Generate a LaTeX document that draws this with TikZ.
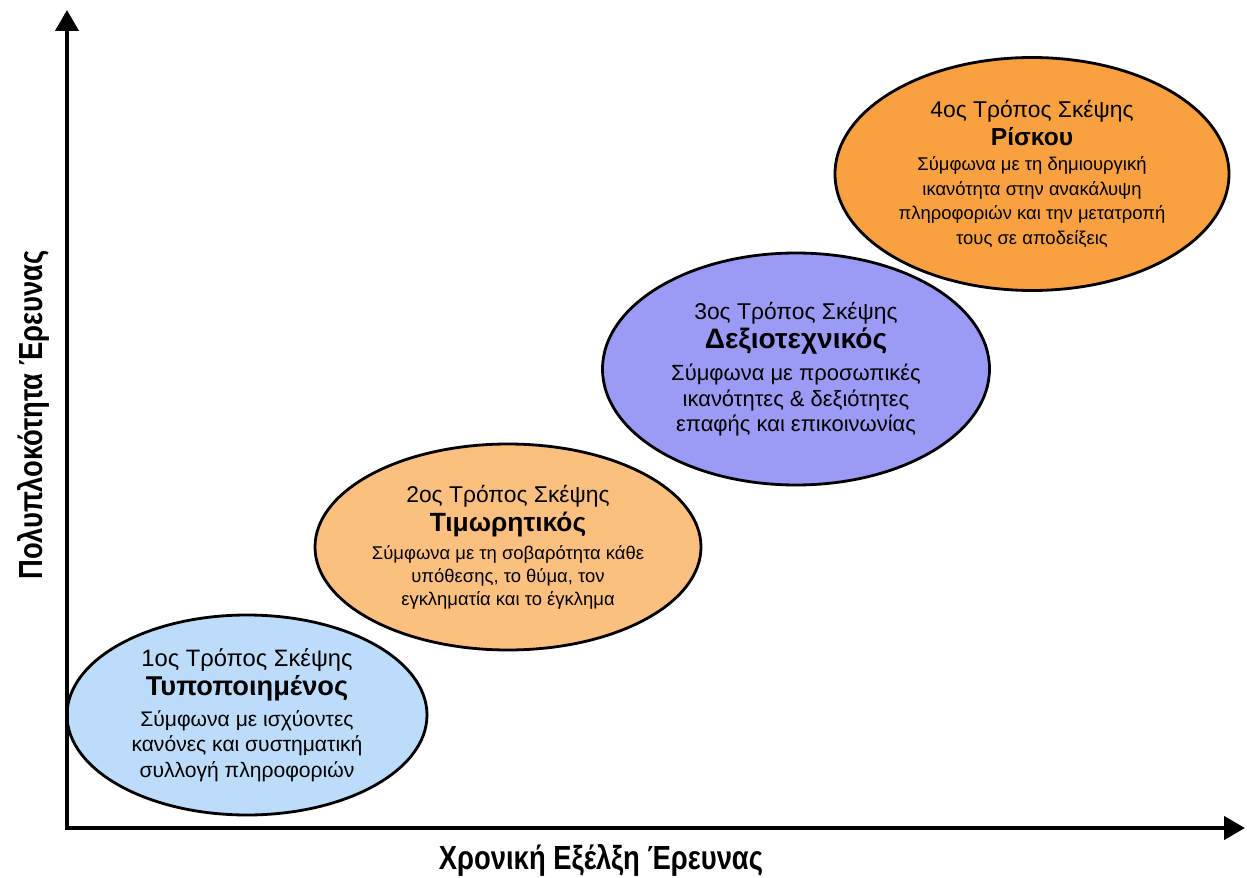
\documentclass[tikz,border=0pt]{standalone}
\usepackage{fontspec}
\setmainfont{Liberation Sans}
\newfontfamily\axisfont[FakeStretch=0.82]{Liberation Sans}
\usetikzlibrary{shapes.geometric,arrows.meta}
\definecolor{typblue}{RGB}{189,220,250}
\definecolor{timorange}{RGB}{251,192,128}
\definecolor{dexpurple}{RGB}{155,155,245}
\definecolor{riskorange}{RGB}{249,160,64}

\begin{document}
\begin{tikzpicture}[
  stage/.style={ellipse, draw, line width=1.6pt, inner sep=0pt, align=center},
  axis/.style={line width=2.4pt, {Triangle[width=0.46cm,length=0.42cm]}-{Triangle[width=0.46cm,length=0.42cm]}},
  axislabel/.style={font=\axisfont\bfseries\fontsize{19}{22}\selectfont}
]
\useasboundingbox (0,0) rectangle (24.94,17.54);
\node[stage, fill=riskorange, minimum width=7.88cm, minimum height=4.66cm, font=\fontsize{10.5}{14}\selectfont] (riskou) at (20.64,14.06)
  {{\fontsize{13}{16}\selectfont 4ος Τρόπος Σκέψης}\\[2pt]
   {\bfseries\fontsize{14}{16}\selectfont Ρίσκου}\\
   Σύμφωνα με τη δημιουργική\\ ικανότητα στην ανακάλυψη\\ πληροφοριών και την μετατροπή\\ τους σε αποδείξεις};
\node[stage, fill=dexpurple, minimum width=7.74cm, minimum height=4.64cm, font=\fontsize{12.5}{14.5}\selectfont] (dexio) at (15.92,10.16)
  {{\fontsize{13}{16}\selectfont 3ος Τρόπος Σκέψης}\\[2pt]
   {\bfseries\fontsize{16}{18}\selectfont Δεξιοτεχνικός}\\[4pt]
   Σύμφωνα με προσωπικές\\ ικανότητες \& δεξιότητες\\ επαφής και επικοινωνίας};
\node[stage, fill=timorange, minimum width=7.72cm, minimum height=4.12cm, font=\fontsize{10.5}{13}\selectfont] (timor) at (10.16,6.60)
  {{\fontsize{13}{16}\selectfont 2ος Τρόπος Σκέψης}\\[2pt]
   {\bfseries\fontsize{15}{17}\selectfont Τιμωρητικός}\\[3pt]
   Σύμφωνα με τη σοβαρότητα κάθε\\ υπόθεσης, το θύμα, τον\\ εγκληματία και το έγκλημα};
\node[stage, fill=typblue, minimum width=7.2cm, minimum height=4.0cm, font=\fontsize{12}{14.5}\selectfont] (typop) at (4.94,3.24)
  {{\fontsize{13.5}{16}\selectfont 1ος Τρόπος Σκέψης}\\[2pt]
   {\bfseries\fontsize{15.5}{18}\selectfont Τυποποιημένος}\\[3pt]
   Σύμφωνα με ισχύοντες\\ κανόνες και συστηματική\\ συλλογή πληροφοριών};
\coordinate (origin) at (1.34,0.98);
\coordinate (ytip) at (1.34,17.34);
\coordinate (xtip) at (24.90,0.98);
\draw[axis] (ytip) -- (origin) -- (xtip);
\node[axislabel] (xlabel) at (12.02,0.34) {Χρονική Εξέλξη Έρευνας};
\node[axislabel, rotate=90] (ylabel) at (0.66,9.24) {Πολυπλοκότητα Έρευνας};
\end{tikzpicture}
\end{document}
